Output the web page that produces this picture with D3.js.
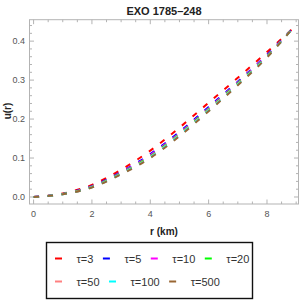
<!DOCTYPE html>
<html>
<head>
<meta charset="utf-8">
<script src="https://cdn.jsdelivr.net/npm/d3@7"></script>
<style>
  body { margin: 0; background: #fff; }
  text { font-family: "Liberation Sans", Arial, sans-serif; }
</style>
</head>
<body>
<svg id="chart" width="300" height="300"></svg>
<script>
// radius (km) sample points
const radius = [0, 1, 2, 3, 4, 5, 6, 7, 8, 8.85];

// u(r) for each tau
const uTau3   = [0, 0.0090, 0.0310, 0.0700, 0.1190, 0.1780, 0.2420, 0.3060, 0.3720, 0.430];
const uTau5   = [0, 0.0080, 0.0280, 0.0640, 0.1100, 0.1670, 0.2310, 0.2960, 0.3650, 0.430];
const uTau10  = [0, 0.0078, 0.0272, 0.0625, 0.1075, 0.1640, 0.2280, 0.2940, 0.3630, 0.430];
const uTau20  = [0, 0.0075, 0.0262, 0.0610, 0.1050, 0.1620, 0.2260, 0.2920, 0.3610, 0.430];
const uTau50  = [0, 0.0073, 0.0255, 0.0600, 0.1030, 0.1600, 0.2240, 0.2900, 0.3600, 0.430];
const uTau100 = [0, 0.0071, 0.0250, 0.0590, 0.1015, 0.1580, 0.2220, 0.2885, 0.3590, 0.430];
const uTau500 = [0, 0.0070, 0.0245, 0.0580, 0.1000, 0.1560, 0.2200, 0.2870, 0.3580, 0.430];

const tauLabels = ["τ=3", "τ=5", "τ=10", "τ=20", "τ=50", "τ=100", "τ=500"];
const tauSeries = [uTau3, uTau5, uTau10, uTau20, uTau50, uTau100, uTau500];
const tauColors = ["#ff0000", "#0000ff", "#ff00ff", "#00ff00", "#ff8080", "#00ffff", "#996633"];

const xMajor = [0, 2, 4, 6, 8];
const yMajor = [0, 0.1, 0.2, 0.3, 0.4];

const svg = d3.select("#chart");

const x = d3.scaleLinear().domain([-0.14, 9.08]).range([29.5, 298.5]);
const y = d3.scaleLinear().domain([-0.018, 0.455]).range([204, 19.7]);

const frameColor = "#b3b3b3";
const labelColor = "#555";

// frame
svg.append("rect")
  .attr("x", x.range()[0]).attr("y", y.range()[1])
  .attr("width", x.range()[1] - x.range()[0])
  .attr("height", y.range()[0] - y.range()[1])
  .attr("fill", "none").attr("stroke", frameColor).attr("stroke-width", 1);

// ticks (inward, on all four sides)
const xMinor = d3.range(0, 9.01, 0.5).filter(v => !xMajor.includes(v));
const yMinor = d3.range(0, 0.45, 0.02).map(v => +v.toFixed(2)).filter(v => !yMajor.some(m => Math.abs(m - v) < 1e-9));

const ticks = svg.append("g").attr("stroke", frameColor).attr("stroke-width", 1);
function xTicks(vals, len) {
  vals.forEach(v => {
    ticks.append("line").attr("x1", x(v)).attr("x2", x(v)).attr("y1", y.range()[0]).attr("y2", y.range()[0] - len);
    ticks.append("line").attr("x1", x(v)).attr("x2", x(v)).attr("y1", y.range()[1]).attr("y2", y.range()[1] + len);
  });
}
function yTicks(vals, len) {
  vals.forEach(v => {
    ticks.append("line").attr("y1", y(v)).attr("y2", y(v)).attr("x1", x.range()[0]).attr("x2", x.range()[0] + len);
    ticks.append("line").attr("y1", y(v)).attr("y2", y(v)).attr("x1", x.range()[1]).attr("x2", x.range()[1] - len);
  });
}
xTicks(xMajor, 4.5); xTicks(xMinor, 2.5);
yTicks(yMajor, 4.5); yTicks(yMinor, 2.5);

// tick labels
svg.append("g").selectAll("text").data(xMajor).enter().append("text")
  .attr("x", d => x(d)).attr("y", 217)
  .attr("text-anchor", "middle").attr("font-size", 9).attr("fill", labelColor)
  .text(d => d);
svg.append("g").selectAll("text").data(yMajor).enter().append("text")
  .attr("x", 25).attr("y", d => y(d) + 3.2)
  .attr("text-anchor", "end").attr("font-size", 9).attr("fill", labelColor)
  .text(d => d.toFixed(1));

// curves
const line = d3.line()
  .x((d, i) => x(radius[i]))
  .y(d => y(d))
  .curve(d3.curveMonotoneX);

svg.append("g").selectAll("path").data(tauSeries).enter().append("path")
  .attr("d", d => line(d))
  .attr("fill", "none")
  .attr("stroke", (d, i) => tauColors[i])
  .attr("stroke-width", 2)
  .attr("stroke-dasharray", "5.5,8.5");

// title and axis labels
svg.append("text").attr("x", 164).attr("y", 15)
  .attr("text-anchor", "middle").attr("font-size", 11).attr("font-weight", "bold")
  .attr("fill", "#222").text("EXO 1785–248");
svg.append("text").attr("x", 164).attr("y", 235)
  .attr("text-anchor", "middle").attr("font-size", 10).attr("font-weight", "bold")
  .attr("fill", "#222").text("r (km)");
svg.append("text").attr("transform", "translate(11,111) rotate(-90)")
  .attr("text-anchor", "middle").attr("font-size", 10).attr("font-weight", "bold")
  .attr("fill", "#222").text("u(r)");

// legend
const legend = svg.append("g");
legend.append("rect").attr("x", 46.5).attr("y", 242.5).attr("width", 206).attr("height", 56)
  .attr("fill", "#fff").attr("stroke", "#111").attr("stroke-width", 1.4);

const rows = [[0, 1, 2, 3], [4, 5, 6]];
const rowY = [258.5, 281.5];
rows.forEach((row, ri) => {
  let cx = 55;
  row.forEach(k => {
    legend.append("line")
      .attr("x1", cx).attr("x2", cx + 7).attr("y1", rowY[ri]).attr("y2", rowY[ri])
      .attr("stroke", tauColors[k]).attr("stroke-width", 2);
    const t = legend.append("text")
      .attr("x", cx + 21.5).attr("y", rowY[ri] + 4)
      .attr("font-size", 11).attr("fill", "#333")
      .text(tauLabels[k]);
    cx += 21.5 + t.node().getComputedTextLength() + 9.5;
  });
});
</script>
</body>
</html>
